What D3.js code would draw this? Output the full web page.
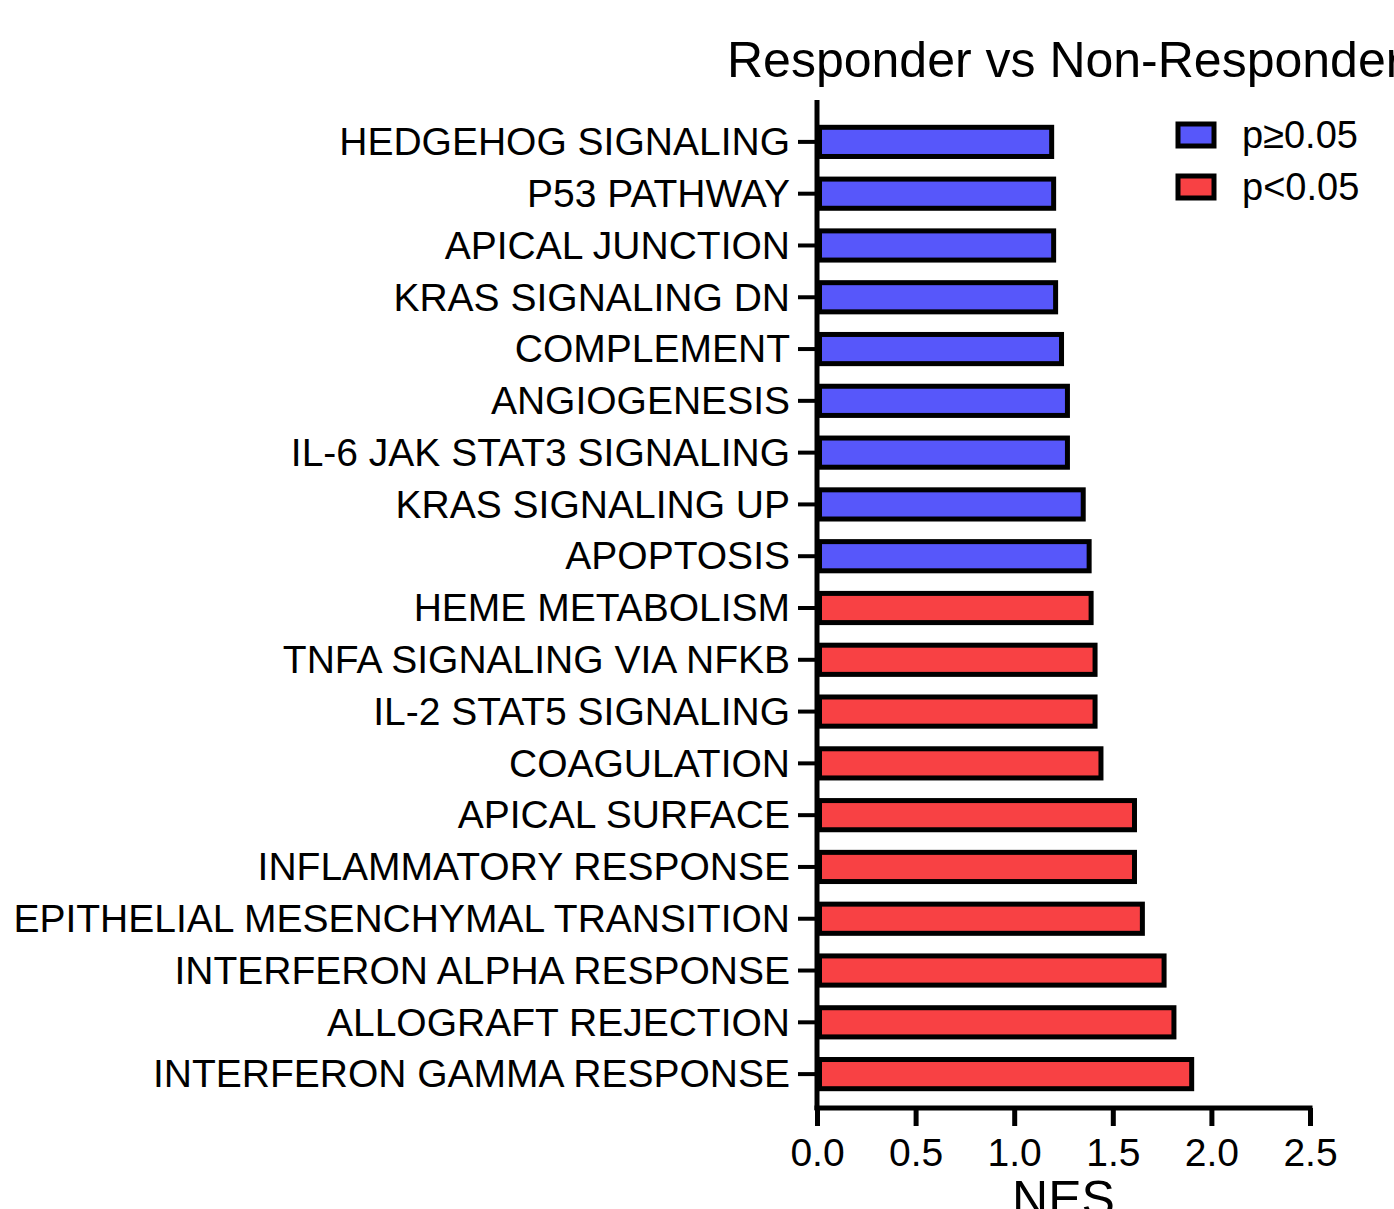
<!DOCTYPE html>
<html>
<head>
<meta charset="utf-8">
<script src="https://cdn.jsdelivr.net/npm/d3@7"></script>
<style>
  html, body { margin: 0; padding: 0; background: #fff; }
  svg { display: block; }
  text { font-family: "Liberation Sans", Arial, sans-serif; fill: #000; }
</style>
</head>
<body>
<svg id="chart" width="1394" height="1209"></svg>
<script>
const categories = [
  "HEDGEHOG SIGNALING", "P53 PATHWAY", "APICAL JUNCTION", "KRAS SIGNALING DN",
  "COMPLEMENT", "ANGIOGENESIS", "IL-6 JAK STAT3 SIGNALING", "KRAS SIGNALING UP",
  "APOPTOSIS", "HEME METABOLISM", "TNFA SIGNALING VIA NFKB", "IL-2 STAT5 SIGNALING",
  "COAGULATION", "APICAL SURFACE", "INFLAMMATORY RESPONSE",
  "EPITHELIAL MESENCHYMAL TRANSITION", "INTERFERON ALPHA RESPONSE",
  "ALLOGRAFT REJECTION", "INTERFERON GAMMA RESPONSE"
];
const nes = [1.19, 1.20, 1.20, 1.21, 1.24, 1.27, 1.27, 1.35, 1.38, 1.39, 1.41, 1.41,
             1.44, 1.61, 1.61, 1.65, 1.76, 1.81, 1.90];
const significant = [false, false, false, false, false, false, false, false, false,
                     true, true, true, true, true, true, true, true, true, true];
const groups = ["p\u22650.05", "p<0.05"];
const groupColors = ["#5757FA", "#F84144"];
const xTicks = [0, 0.5, 1.0, 1.5, 2.0, 2.5];
const title = "Responder vs Non-Responder";
const xTitle = "NES";

const data = categories.map((c, i) => ({ name: c, value: nes[i], sig: significant[i] }));

const svg = d3.select("#chart");
const x = d3.scaleLinear().domain([0, 2.5]).range([817, 1310]);
const y = d3.scaleBand().domain(categories).range([116, 1100]).paddingInner(0.34).paddingOuter(0.17);
const color = d3.scaleOrdinal().domain([false, true]).range(groupColors);

// bars
const bw = 5;
svg.append("g").selectAll("rect").data(data).enter().append("rect")
  .attr("x", x(0) + bw / 2)
  .attr("y", d => y(d.name) + bw / 2)
  .attr("width", d => x(d.value) - x(0) - bw / 2)
  .attr("height", y.bandwidth() - bw)
  .attr("fill", d => color(d.sig))
  .attr("stroke", "#000")
  .attr("stroke-width", bw);

// y axis
const yAxis = svg.append("g").attr("transform", `translate(${x(0)},0)`)
  .call(d3.axisLeft(y).tickSize(19).tickPadding(8).tickSizeOuter(0));
yAxis.select(".domain").remove();
yAxis.append("line").attr("x1", 0).attr("x2", 0).attr("y1", 100).attr("y2", 1110)
  .attr("stroke", "#000").attr("stroke-width", 5);
yAxis.selectAll(".tick line").attr("stroke", "#000").attr("stroke-width", 4);
yAxis.selectAll(".tick text").attr("font-size", 39).attr("dy", "0.34em")
  .style("font-family", "'Liberation Sans', Arial, sans-serif").attr("fill", "#000");

// x axis
const xAxis = svg.append("g").attr("transform", `translate(0,1108)`)
  .call(d3.axisBottom(x).tickValues(xTicks).tickFormat(d3.format(".1f")).tickSize(18).tickPadding(12).tickSizeOuter(0));
xAxis.select(".domain").remove();
xAxis.append("line").attr("x1", x(0) - 2.5).attr("x2", x(2.5) + 2.5).attr("y1", 0).attr("y2", 0)
  .attr("stroke", "#000").attr("stroke-width", 5);
xAxis.selectAll(".tick line").attr("stroke", "#000").attr("stroke-width", 5);
xAxis.selectAll(".tick text").attr("font-size", 39)
  .style("font-family", "'Liberation Sans', Arial, sans-serif").attr("fill", "#000");

// axis title
svg.append("text").attr("x", (x(0) + x(2.5)) / 2).attr("y", 1216)
  .attr("text-anchor", "middle").attr("font-size", 50).text(xTitle);

// chart title
svg.append("text").attr("x", 727).attr("y", 77)
  .attr("font-size", 50).text(title);

// legend
const leg = svg.append("g");
groups.forEach((g, i) => {
  const yy = 135 + i * 52;
  leg.append("rect").attr("x", 1178).attr("y", yy - 11).attr("width", 36).attr("height", 22)
    .attr("fill", groupColors[i]).attr("stroke", "#000").attr("stroke-width", 5);
  leg.append("text").attr("x", 1242).attr("y", yy).attr("dy", "0.34em")
    .attr("font-size", 38).text(g);
});
</script>
</body>
</html>
